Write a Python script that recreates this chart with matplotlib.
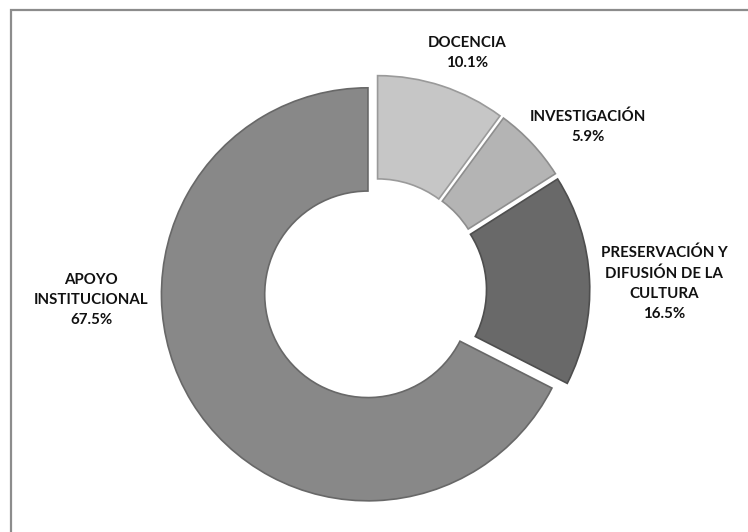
import matplotlib
matplotlib.use("Agg")
import matplotlib.pyplot as plt
from matplotlib.patches import Rectangle

categories = ["DOCENCIA", "INVESTIGACIÓN", "PRESERVACIÓN Y\nDIFUSIÓN DE LA\nCULTURA", "APOYO\nINSTITUCIONAL"]
values = [10.1, 5.9, 16.5, 67.5]
colors = ["#c6c6c6", "#b4b4b4", "#696969", "#888888"]
edges = ["#9a9a9a", "#8e8e8e", "#4e4e4e", "#686868"]
# label centres in pixel offsets from the donut centre (x right, y up)
label_pos = [(92, 237), (213, 163), (289, 7), (-284, -10)]

W, H = 748, 532
cx, cy, R = 375, 290, 206.5

fig = plt.figure(figsize=(W / 100, H / 100), dpi=100)
ax = fig.add_axes([0, 0, 1, 1])

wedges, _ = ax.pie(values, colors=colors, startangle=90, counterclock=False,
                   explode=[0.04] * len(values),
                   wedgeprops=dict(width=0.5, linewidth=1.2))
for w, ec in zip(wedges, edges):
    w.set_edgecolor(ec)

ax.set_xlim(-cx / R, (W - cx) / R)
ax.set_ylim(-(H - cy) / R, cy / R)
ax.set_aspect("equal")
ax.axis("off")

for cat, v, (lx, ly) in zip(categories, values, label_pos):
    ax.text(lx / R, ly / R, f"{cat}\n{v:.1f}%", ha="center", va="center",
            fontsize=10.8, fontweight="bold", family=["Lato", "DejaVu Sans"],
            linespacing=1.55, color="#111111")

# chart border (top and left edges visible)
fig.patches.append(Rectangle((10.5 / W, -0.1), 1.2, (H - 9.5) / H + 0.1,
                             transform=fig.transFigure, fill=False,
                             edgecolor="#8c8c8c", linewidth=1.6))

fig.savefig("out.png", dpi=100)
